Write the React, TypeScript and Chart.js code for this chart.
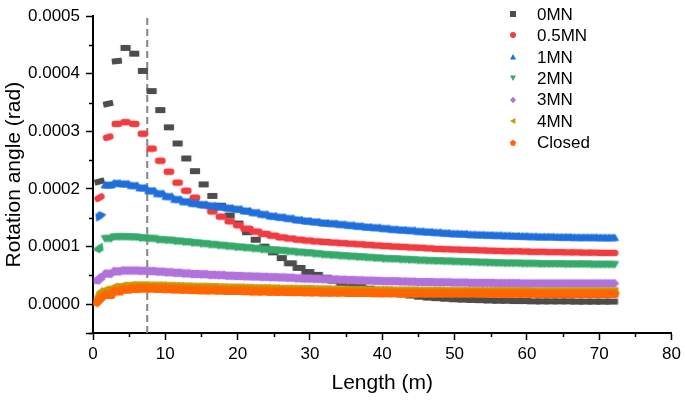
import React, { useEffect, useRef } from "react";
import { Chart, registerables } from "chart.js";

Chart.register(...registerables);

// Position along the length (m) of each plotted marker group
const lengthM = [
  0.9, 2.1, 3.3, 4.5, 5.7, 6.9, 8.1, 9.3, 10.5, 11.7,
  12.9, 14.1, 15.3, 16.5, 17.7, 18.9, 20.1, 21.3, 22.5, 23.7,
  24.9, 26.1, 27.3, 28.5, 29.7, 30.9, 32.1, 33.3, 34.5, 35.7,
  36.9, 38.1, 39.3, 40.5, 41.7, 42.9, 44.1, 45.3, 46.5, 47.7,
  48.9, 50.1, 51.3, 52.5, 53.7, 54.9, 56.1, 57.3, 58.5, 59.7,
  60.9, 62.1, 63.3, 64.5, 65.7, 66.9, 68.1, 69.3, 70.5, 71.7,
];

// Rotation angles in micro-radians (µrad)
const rot0MN = [
  213, 348, 422, 445, 435, 405, 370, 337, 307, 279,
  253, 231, 208, 188, 171, 154, 140, 125, 112, 100,
  90, 80, 71, 63, 56, 51, 46, 41, 37, 33,
  30, 27, 24, 21.5, 19, 17, 15, 13, 11.5, 10.5,
  9.5, 8.5, 8, 7.5, 7, 6.5, 6, 6, 5.5, 5.5,
  5, 5, 5, 5, 5, 4.5, 4.5, 4.5, 4.5, 4.5,
];
const rot05MN = [
  185, 290, 313, 316, 313, 296, 270, 249, 230, 211,
  197, 185, 172, 161, 152, 144, 137, 131, 126, 122,
  119, 116, 114, 112, 110.5, 109, 108, 107, 106, 105,
  104, 103, 102, 101, 100, 99.5, 98.5, 98, 97, 96,
  95.5, 95, 94.5, 94, 93.5, 93, 92.5, 92, 92, 91.5,
  91, 91, 90.5, 90.5, 90, 90, 89.5, 89.5, 89, 89,
];
const rot1MN = [
  154, 207, 210, 209, 206, 202, 197, 192, 187, 182,
  178, 175, 173, 171, 169, 167, 165, 162, 159, 156,
  153, 151, 149, 146.5, 144.5, 143, 141, 140, 138.5, 137,
  135.5, 134, 133, 131.5, 130, 129, 128, 126.5, 125.5, 124.5,
  123.5, 122.5, 122, 121, 120.5, 120, 119.5, 119, 118.5, 118,
  117.5, 117, 117, 116.5, 116.5, 116, 116, 116, 115.5, 115.5,
];
const rot2MN = [
  96, 114, 117, 117, 116.5, 115, 114, 112, 111, 109.5,
  108, 106.5, 105, 103.5, 102, 100.5, 99, 98, 96.5, 95,
  94, 93, 91.5, 90, 89, 87.5, 86, 85, 84, 83,
  82, 81, 80, 79, 78.5, 77.5, 77, 76, 75.5, 75,
  74.5, 74, 73.5, 73, 72.5, 72, 71.5, 71, 71, 70.5,
  70.5, 70, 70, 70, 69.5, 69.5, 69.5, 69, 69, 69,
];
const rot3MN = [
  44, 53, 57, 58.5, 58.5, 58, 57.5, 56.5, 55.5, 54.5,
  53.5, 52.5, 52, 51, 50.5, 49.5, 49, 48.5, 48, 47.5,
  47, 46.5, 46, 45, 44.5, 44, 43.5, 43, 42.5, 42,
  41.5, 41, 40.5, 40, 40, 39.5, 39, 38.5, 38.5, 38,
  38, 37.5, 37.5, 37, 37, 37, 36.5, 36.5, 36.5, 36,
  36, 36, 36, 36, 36, 36, 36, 36, 36, 36,
];
const rot4MN = [
  17, 25, 30, 32, 33, 33, 32.5, 32.5, 32, 31.5,
  31, 30.5, 30.5, 30, 29.5, 29, 29, 28.5, 28, 28,
  27.5, 27, 27, 26.5, 26.5, 26, 26, 25.5, 25.5, 25,
  25, 24.5, 24.5, 24.5, 24, 24, 24, 23.5, 23.5, 23.5,
  23, 23, 23, 23, 23, 23, 23, 23, 23, 23,
  22.5, 22.5, 22.5, 22.5, 22.5, 22.5, 22.5, 22.5, 22.5, 22.5,
];
const rotClosed = [
  7, 16, 22, 25, 26.5, 27, 27, 26.5, 26, 25.5,
  25, 24.5, 24, 24, 23.5, 23, 23, 22.5, 22, 22,
  21.5, 21.5, 21, 21, 20.5, 20.5, 20, 20, 20, 19.5,
  19.5, 19.5, 19, 19, 19, 18.5, 18.5, 18.5, 18.5, 18.5,
  18.5, 18.5, 18.5, 18.5, 18.5, 18, 18, 18, 18, 18,
  18, 17.5, 17.5, 17.5, 17.5, 17.5, 17.5, 17.5, 17.5, 17.5,
];

const seriesNames = ["0MN", "0.5MN", "1MN", "2MN", "3MN", "4MN", "Closed"];
const seriesValues = [rot0MN, rot05MN, rot1MN, rot2MN, rot3MN, rot4MN, rotClosed];

const dashedLineX = 7.5; // m
const xMin = 0, xMax = 80, xStep = 10;
const yMin = -0.00005, yMax = 0.0005, yStep = 0.0001;
const yMinorTicks = [-0.00005, 0.00005, 0.00015, 0.00025, 0.00035, 0.00045];
const xMinorTicks = [5, 15, 25, 35, 45, 55, 65, 75];

// Styles
const FONT = "'Liberation Sans', Arial, Helvetica, sans-serif";
const NARROW = [-2.2, -1.1, 0, 1.1, 2.2];
const WIDE = [-3.6, -2.4, -1.2, 0, 1.2, 2.4, 3.6];
const styles = [
  { shape: "square", color: "#4d4d4d", size: 5.8, narrowUntil: 22, tilt: [-15, -12, -6] },
  { shape: "circle", color: "#ef3d42", size: 6.5, narrowUntil: 17, tilt: [-30, -15] },
  { shape: "triUp", color: "#1f6fdb", size: 8, narrowUntil: 1, tilt: [-35] },
  { shape: "triDown", color: "#36a96b", size: 8, narrowUntil: 1, tilt: [-35] },
  { shape: "diamond", color: "#b073db", size: 8, narrowUntil: 0, tilt: [-40] },
  { shape: "triLeft", color: "#cc9900", size: 8.5, narrowUntil: 0, tilt: [-40] },
  { shape: "pentagon", color: "#ff6600", size: 8.5, narrowUntil: 0, tilt: [-45] },
];

function drawShape(ctx: CanvasRenderingContext2D, shape: string, cx: number, cy: number, s: number) {
  const h = s / 2;
  ctx.beginPath();
  switch (shape) {
    case "square":
      ctx.rect(cx - h, cy - h, s, s);
      break;
    case "circle":
      ctx.arc(cx, cy, h, 0, Math.PI * 2);
      break;
    case "triUp":
      ctx.moveTo(cx, cy - 0.5 * s);
      ctx.lineTo(cx + 0.5 * s, cy + 0.4 * s);
      ctx.lineTo(cx - 0.5 * s, cy + 0.4 * s);
      break;
    case "triDown":
      ctx.moveTo(cx, cy + 0.5 * s);
      ctx.lineTo(cx + 0.5 * s, cy - 0.4 * s);
      ctx.lineTo(cx - 0.5 * s, cy - 0.4 * s);
      break;
    case "triLeft":
      ctx.moveTo(cx - 0.5 * s, cy);
      ctx.lineTo(cx + 0.4 * s, cy - 0.5 * s);
      ctx.lineTo(cx + 0.4 * s, cy + 0.5 * s);
      break;
    case "diamond":
      ctx.moveTo(cx, cy - 0.55 * s);
      ctx.lineTo(cx + 0.5 * s, cy);
      ctx.lineTo(cx, cy + 0.55 * s);
      ctx.lineTo(cx - 0.5 * s, cy);
      break;
    case "pentagon":
      for (let i = 0; i < 5; i++) {
        const a = -Math.PI / 2 + (i * 2 * Math.PI) / 5;
        const px = cx + 0.55 * s * Math.cos(a);
        const py = cy + 0.55 * s * Math.sin(a);
        if (i === 0) ctx.moveTo(px, py);
        else ctx.lineTo(px, py);
      }
      break;
  }
  ctx.closePath();
  ctx.fill();
}

function makeMarker(shape: string, color: string, size: number, offsets: number[]) {
  const span = Math.max(...offsets) - Math.min(...offsets);
  let w = Math.ceil(span + size + 2);
  let h = Math.ceil(size * 1.2 + 2);
  if (w % 2) w++;
  if (h % 2) h++;
  const c = document.createElement("canvas");
  c.width = w;
  c.height = h;
  const ctx = c.getContext("2d")!;
  ctx.fillStyle = color;
  for (const o of offsets) drawShape(ctx, shape, w / 2 + o, h / 2, size);
  return c;
}

export default function App() {
  const canvasRef = useRef<HTMLCanvasElement | null>(null);

  useEffect(() => {
    if (!canvasRef.current) return;
    const narrowMarkers = styles.map((s) => makeMarker(s.shape, s.color, s.size, NARROW));
    const wideMarkers = styles.map((s) => makeMarker(s.shape, s.color, s.size, WIDE));
    const legendMarkers = styles.map((s) => makeMarker(s.shape, s.color, 6, [0]));

    const datasets: any[] = seriesValues.map((vals, i) => ({
      label: seriesNames[i],
      data: vals.map((v, k) => ({ x: lengthM[k], y: v * 1e-6 })),
      showLine: false,
      pointStyle: (c: any) => (c.dataIndex < styles[i].narrowUntil ? narrowMarkers[i] : wideMarkers[i]),
      pointRadius: 3,
      pointRotation: (c: any) => styles[i].tilt[c.dataIndex] ?? 0,
      order: seriesNames.length - i,
    }));
    datasets.push({
      label: "_ref",
      data: [
        { x: dashedLineX, y: yMin },
        { x: dashedLineX, y: yMax },
      ],
      showLine: true,
      borderColor: "#858585",
      borderWidth: 2,
      borderDash: [7, 4],
      pointRadius: 0,
      order: 100,
    });

    const minorTicks = {
      id: "minorTicks",
      afterDraw(chart: any) {
        const { ctx, scales, chartArea } = chart;
        ctx.save();
        ctx.strokeStyle = "#000";
        ctx.lineWidth = 1.5;
        ctx.beginPath();
        for (const v of xMinorTicks) {
          const px = Math.round(scales.x.getPixelForValue(v)) + 0.5;
          ctx.moveTo(px, chartArea.bottom);
          ctx.lineTo(px, chartArea.bottom + 4);
        }
        for (const v of yMinorTicks) {
          const py = Math.round(scales.y.getPixelForValue(v)) + 0.5;
          ctx.moveTo(chartArea.left, py);
          ctx.lineTo(chartArea.left - 4, py);
        }
        ctx.stroke();
        ctx.restore();
      },
    };

    const customLegend = {
      id: "customLegend",
      afterDraw(chart: any) {
        const { ctx } = chart;
        ctx.save();
        ctx.font = `17px ${FONT}`;
        ctx.fillStyle = "#000";
        ctx.textBaseline = "middle";
        ctx.textAlign = "left";
        seriesNames.forEach((name, i) => {
          const y = 14 + i * 21.45;
          const m = legendMarkers[i];
          ctx.drawImage(m, Math.round(513 - m.width / 2), Math.round(y - m.height / 2));
          ctx.fillText(name, 537, y + 1);
        });
        ctx.restore();
      },
    };

    const tickFont = { family: FONT, size: 17 };
    const titleFont = { family: FONT, size: 21 };

    const chart = new Chart(canvasRef.current, {
      type: "scatter",
      data: { datasets },
      options: {
        animation: false,
        responsive: false,
        devicePixelRatio: 1,
        layout: { padding: { top: 10, right: 11, left: 0, bottom: 0 } },
        plugins: { legend: { display: false }, tooltip: { enabled: false } },
        scales: {
          x: {
            type: "linear",
            min: xMin,
            max: xMax,
            ticks: { stepSize: xStep, font: tickFont, color: "#000", padding: 4, maxRotation: 0 },
            grid: { drawOnChartArea: false, drawTicks: true, tickLength: 7, tickColor: "#000", tickWidth: 1.5 },
            border: { display: true, color: "#000", width: 2 },
            title: { display: true, text: "Length (m)", font: titleFont, color: "#000", padding: { top: 0, bottom: 4 } },
            afterFit: (s: any) => {
              s.height = 67;
            },
          },
          y: {
            type: "linear",
            min: yMin,
            max: yMax,
            ticks: {
              stepSize: yStep,
              font: tickFont,
              color: "#000",
              padding: 6,
              callback: (v: any) => (Number(v) < -1e-9 ? "" : Number(v).toFixed(4)),
            },
            grid: { drawOnChartArea: false, drawTicks: true, tickLength: 7, tickColor: "#000", tickWidth: 1.5 },
            border: { display: true, color: "#000", width: 2 },
            title: { display: true, text: "Rotation angle (rad)", font: titleFont, color: "#000", padding: { top: 2, bottom: 0 } },
            afterFit: (s: any) => {
              s.width = 93;
            },
          },
        },
      },
      plugins: [minorTicks, customLegend],
    });
    return () => chart.destroy();
  }, []);

  return (
    <div style={{ position: "absolute", left: 0, top: 0, width: 685, height: 400, background: "#fff" }}>
      <canvas ref={canvasRef} width={685} height={400} />
    </div>
  );
}
